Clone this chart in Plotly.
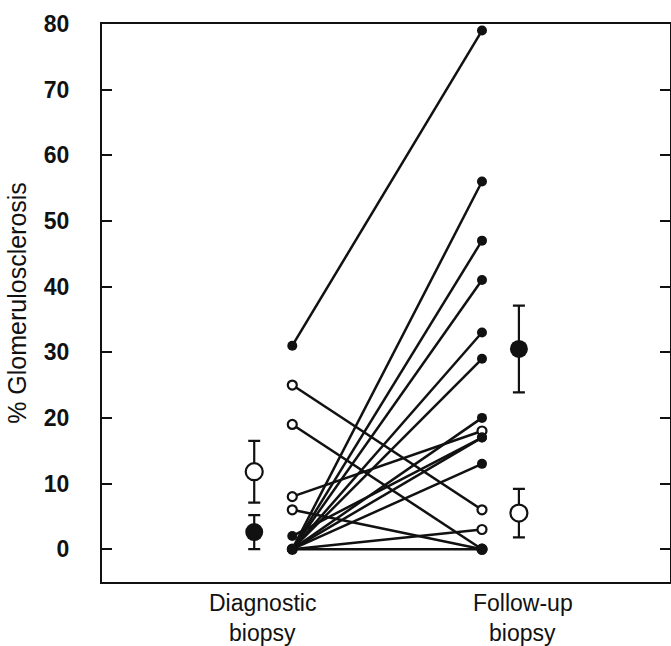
import plotly.graph_objects as go

# Individual patients: diagnostic -> follow-up (% glomerulosclerosis)
filled_diag = [31, 2, 0, 0, 0, 0, 0, 0, 0, 0, 0]
filled_follow = [79, 17, 56, 47, 41, 33, 29, 20, 17, 13, 0]
open_diag = [25, 19, 8, 6, 0]
open_follow = [6, 0, 18, 0, 3]

# Group means and error bars
mean_filled = [2.6, 30.5]
err_filled = [2.6, 6.6]
mean_open = [11.8, 5.5]
err_open = [4.7, 3.7]

cat_line1 = ["Diagnostic", "Follow-up"]
cat_line2 = ["biopsy", "biopsy"]
y_ticks = [0, 10, 20, 30, 40, 50, 60, 70, 80]

# x layout positions (axis units)
X_IND = [3.35, 6.69]
X_MEAN = [2.68, 7.34]
X_LABEL = [2.82, 7.41]

INK = "#111111"
FONT = "Liberation Sans, Arial, sans-serif"
fig = go.Figure()

# connecting lines
for d, f in list(zip(open_diag, open_follow)) + list(zip(filled_diag, filled_follow)):
    fig.add_trace(go.Scatter(x=X_IND, y=[d, f], mode="lines",
                             line=dict(color=INK, width=2.5), hoverinfo="skip",
                             showlegend=False))

# open individual markers
fig.add_trace(go.Scatter(
    x=[X_IND[0]] * len(open_diag) + [X_IND[1]] * len(open_follow),
    y=open_diag + open_follow, mode="markers",
    marker=dict(symbol="circle", size=9, color="white",
                line=dict(color=INK, width=2.2)),
    showlegend=False))

# filled individual markers
fig.add_trace(go.Scatter(
    x=[X_IND[0]] * len(filled_diag) + [X_IND[1]] * len(filled_follow),
    y=filled_diag + filled_follow, mode="markers",
    marker=dict(symbol="circle", size=10, color=INK, line=dict(width=0)),
    showlegend=False))

# means with error bars
fig.add_trace(go.Scatter(
    x=X_MEAN, y=mean_open, mode="markers",
    error_y=dict(type="data", array=err_open, color=INK, thickness=2.2, width=6),
    marker=dict(symbol="circle", size=17, color="white",
                line=dict(color=INK, width=2.2)),
    showlegend=False))
fig.add_trace(go.Scatter(
    x=X_MEAN, y=mean_filled, mode="markers",
    error_y=dict(type="data", array=err_filled, color=INK, thickness=2.2, width=6),
    marker=dict(symbol="circle", size=18, color=INK, line=dict(width=0)),
    showlegend=False))

# category labels (two lines, tight spacing as in the reference)
for xv, t1, t2 in zip(X_LABEL, cat_line1, cat_line2):
    fig.add_annotation(x=xv, xref="x", y=-0.010, yref="paper", yanchor="top",
                       text=t1, showarrow=False,
                       font=dict(size=23, family=FONT, color=INK))
    fig.add_annotation(x=xv, xref="x", y=-0.064, yref="paper", yanchor="top",
                       text=t2, showarrow=False,
                       font=dict(size=23, family=FONT, color=INK))

fig.update_layout(
    width=671, height=646,
    margin=dict(l=102, r=1, t=24, b=64, autoexpand=False),
    paper_bgcolor="white", plot_bgcolor="white",
    font=dict(family=FONT, color=INK),
    xaxis=dict(range=[0, 10], showticklabels=False, ticks="", showgrid=False,
               zeroline=False, showline=True, linecolor=INK, linewidth=2,
               mirror=True),
    yaxis=dict(range=[-5, 80], tickmode="array", tickvals=y_ticks,
               ticks="inside", ticklen=10, tickwidth=2, tickcolor=INK,
               showgrid=False, zeroline=False, showline=True, linecolor=INK,
               linewidth=2, mirror="ticks", automargin=False,
               ticklabelstandoff=26,
               tickfont=dict(size=23, weight="bold"),
               title=dict(text="% Glomerulosclerosis", font=dict(size=25),
                          standoff=10)),
)

fig.write_html("out.html",
               config={"displayModeBar": False},
               post_script="document.body.style.margin='0';"
                           "document.body.style.overflow='hidden';")
